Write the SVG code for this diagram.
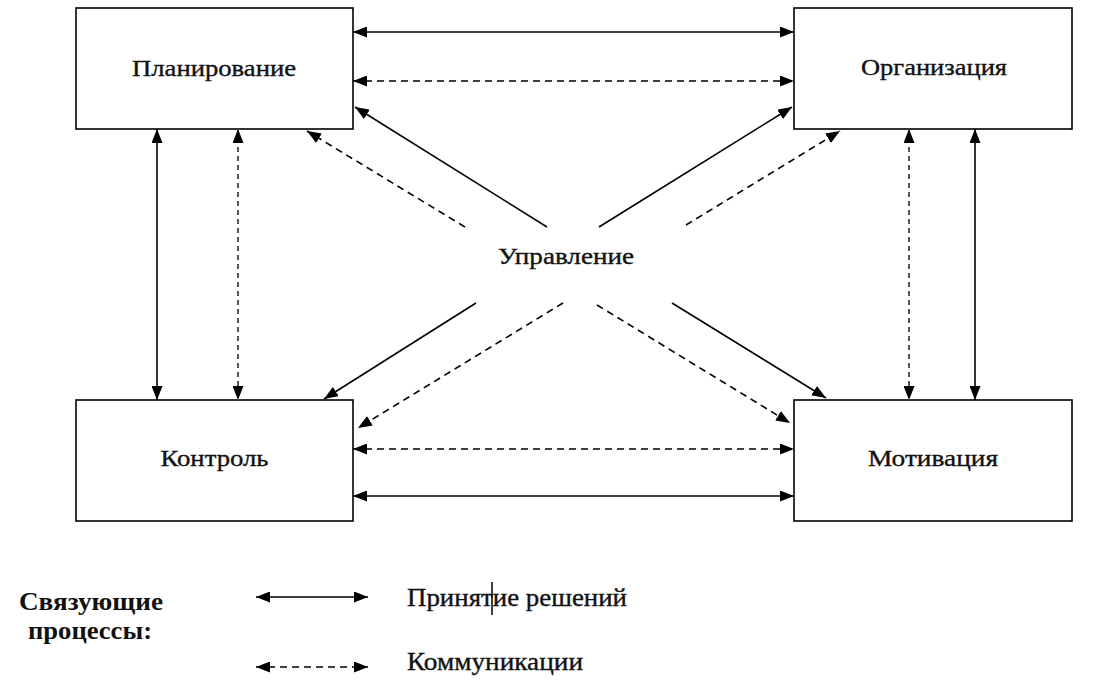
<svg xmlns="http://www.w3.org/2000/svg" width="1098" height="692" viewBox="0 0 1098 692">
<style>
.box{fill:#fff;stroke:#000;stroke-width:1.6}
.lbl{font-family:"Times New Roman","Liberation Serif","DejaVu Serif",serif;font-size:24px;fill:#111;stroke:#111;stroke-width:0.35;text-anchor:middle}
.leg{font-family:"Times New Roman","Liberation Serif","DejaVu Serif",serif;font-size:25px;fill:#111;stroke:#111;stroke-width:0.35}
.legb{font-family:"Times New Roman","Liberation Serif","DejaVu Serif",serif;font-size:25px;font-weight:bold;fill:#111}
.s{stroke:#000;stroke-width:1.6;fill:none;marker-start:url(#a);marker-end:url(#a)}
.s1{stroke:#000;stroke-width:1.6;fill:none;marker-end:url(#a)}
.d{stroke:#000;stroke-width:1.6;fill:none;stroke-dasharray:7 5;marker-start:url(#a);marker-end:url(#a)}
.d1{stroke:#000;stroke-width:1.6;fill:none;stroke-dasharray:7 5;marker-end:url(#a)}
.dv{stroke:#555;stroke-width:2;fill:none;stroke-dasharray:5 4;marker-start:url(#a);marker-end:url(#a)}
</style>
<defs>
<marker id="a" viewBox="0 0 14 11" refX="14" refY="5.5" markerWidth="14" markerHeight="11" markerUnits="userSpaceOnUse" orient="auto-start-reverse">
<path d="M0,0 L14,5.5 L0,11 Z" fill="#000"/>
</marker>
</defs>
<rect width="1098" height="692" fill="#fff"/>
<g id="n-plan"><rect class="box" x="76" y="8" width="277" height="121"/><text class="lbl" x="214" y="76" textLength="164" lengthAdjust="spacingAndGlyphs">Планирование</text></g>
<g id="n-org"><rect class="box" x="794" y="8" width="278" height="121"/><text class="lbl" x="934" y="75" textLength="146" lengthAdjust="spacingAndGlyphs">Организация</text></g>
<g id="n-ctrl"><rect class="box" x="76" y="400" width="277" height="121"/><text class="lbl" x="214.5" y="466" textLength="108" lengthAdjust="spacingAndGlyphs">Контроль</text></g>
<g id="n-mot"><rect class="box" x="794" y="400" width="278" height="121"/><text class="lbl" x="933" y="466" textLength="130" lengthAdjust="spacingAndGlyphs">Мотивация</text></g>
<g id="n-center"><text class="lbl" x="566" y="264" textLength="136" lengthAdjust="spacingAndGlyphs">Управление</text></g>
<g id="connectors">
<line class="s" x1="353" y1="32" x2="794" y2="32"/>
<line class="d" x1="353" y1="81" x2="794" y2="81"/>
<line class="d" x1="353" y1="449" x2="794" y2="449"/>
<line class="s" x1="353" y1="496" x2="794" y2="496"/>
<line class="s" x1="157" y1="129" x2="157" y2="400"/>
<line class="dv" x1="238" y1="129" x2="238" y2="400"/>
<line class="dv" x1="909" y1="129" x2="909" y2="400"/>
<line class="s" x1="975" y1="129" x2="975" y2="400"/>
<line class="s1" x1="547" y1="227" x2="355" y2="107"/>
<line class="d1" x1="465" y1="227" x2="307" y2="131"/>
<line class="s1" x1="599" y1="227" x2="792" y2="107"/>
<line class="d1" x1="686" y1="225" x2="840" y2="131"/>
<line class="s1" x1="476" y1="303" x2="324" y2="399"/>
<line class="d1" x1="563" y1="303" x2="358" y2="428"/>
<line class="d1" x1="597" y1="305" x2="790" y2="423"/>
<line class="s1" x1="672" y1="303" x2="826" y2="398"/>
</g>
<g id="legend">
<text class="legb" x="19" y="610" textLength="144" lengthAdjust="spacingAndGlyphs">Связующие</text>
<text class="legb" x="28" y="639" textLength="124" lengthAdjust="spacingAndGlyphs">процессы:</text>
<line class="s" x1="256" y1="597" x2="368" y2="597"/>
<line class="d" x1="256" y1="667" x2="368" y2="667"/>
<text class="leg" x="407" y="606" textLength="220" lengthAdjust="spacingAndGlyphs">Принятие решений</text>
<line x1="492" y1="582" x2="492" y2="615" stroke="#000" stroke-width="1.5"/>
<text class="leg" x="407" y="670" textLength="176" lengthAdjust="spacingAndGlyphs">Коммуникации</text>
</g>
</svg>
